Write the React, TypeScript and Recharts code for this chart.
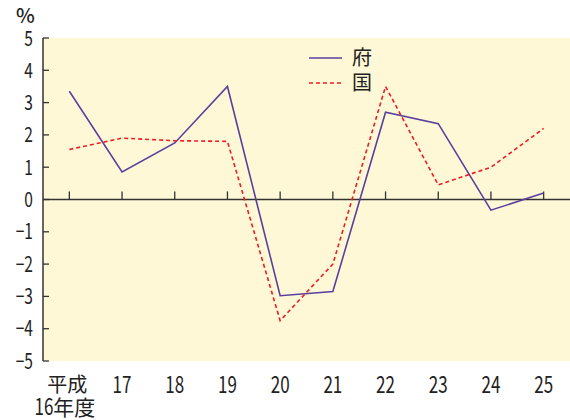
import React from 'react';
import { LineChart, Line, XAxis, YAxis, CartesianGrid, ReferenceLine } from 'recharts';

const categories = ['平成16年度', '17', '18', '19', '20', '21', '22', '23', '24', '25'];
const fuValues = [3.35, 0.85, 1.75, 3.5, -2.98, -2.85, 2.7, 2.35, -0.33, 0.2];
const kuniValues = [1.55, 1.9, 1.82, 1.8, -3.75, -2.0, 3.5, 0.45, 1.0, 2.2];
const yTicks = [-5, -4, -3, -2, -1, 0, 1, 2, 3, 4, 5];

const data = categories.map((c, i) => ({ name: c, fu: fuValues[i], kuni: kuniValues[i] }));

const FONT = '"Noto Sans CJK JP", sans-serif';
const PURPLE = '#5b3f9f';
const RED = '#ee1c25';
const AXIS = '#333333';
const TEXT = '#222222';
const NARROW = 0.74;

const Narrow = ({ x, y, anchor, size, children }: any) => (
  <text
    transform={`translate(${x},${y}) scale(${NARROW},1)`}
    x={0}
    y={0}
    textAnchor={anchor}
    fontFamily={FONT}
    fontSize={size}
    fill={TEXT}
  >
    {children}
  </text>
);

const YTick = (props: any) => {
  const { x, y, payload } = props;
  const v = payload.value;
  const label = v < 0 ? '\u2212' + Math.abs(v) : String(v);
  return (
    <g>
      <line x1={x + 10} x2={x + 16} y1={y} y2={y} stroke={AXIS} strokeWidth={1.3} />
      <Narrow x={x} y={y + 7.5} anchor="end" size={21}>{label}</Narrow>
    </g>
  );
};

const XTick = (props: any) => {
  const { x, y, payload } = props;
  const v: string = payload.value;
  if (v.startsWith('平成')) {
    return (
      <g>
        <text x={x - 2} y={y + 31} textAnchor="middle" fontFamily={FONT} fontSize={20} fill={TEXT}>平成</text>
        <Narrow x={x - 16} y={y + 54} anchor="end" size={23}>16</Narrow>
        <text x={x - 16} y={y + 54} textAnchor="start" fontFamily={FONT} fontSize={21} fill={TEXT}>年度</text>
      </g>
    );
  }
  return <Narrow x={x} y={y + 32} anchor="middle" size={23}>{v}</Narrow>;
};

const LegendBox = () => (
  <svg width={80} height={56} style={{ position: 'absolute', left: 309, top: 48, overflow: 'visible' }}>
    <line x1={0} x2={33} y1={10} y2={10} stroke={PURPLE} strokeWidth={1.6} />
    <text x={43} y={17} fontFamily={FONT} fontSize={20} fill={TEXT}>府</text>
    <line x1={0} x2={33} y1={35} y2={35} stroke={RED} strokeWidth={1.6} strokeDasharray="4 3" />
    <text x={43} y={42} fontFamily={FONT} fontSize={20} fill={TEXT}>国</text>
  </svg>
);

export default function App() {
  return (
    <div style={{ position: 'absolute', left: 0, top: 0, width: 570, height: 420, background: '#fff' }}>
      <LineChart width={570} height={420} data={data} margin={{ top: 38, right: 0, bottom: 0, left: 0 }}>
        <CartesianGrid fill="#fef8d6" stroke="none" horizontal={false} vertical={false} />
        <XAxis
          dataKey="name"
          scale="band"
          axisLine={false}
          tickLine={false}
          tickSize={0}
          tickMargin={0}
          height={59}
          tick={<XTick />}
          interval={0}
        />
        <YAxis
          domain={[-5, 5]}
          ticks={yTicks}
          width={43}
          axisLine={{ stroke: AXIS, strokeWidth: 1.5 }}
          tickLine={false}
          tickSize={0}
          tickMargin={10}
          tick={<YTick />}
          interval={0}
        />
        <ReferenceLine y={0} stroke={AXIS} strokeWidth={1.5} />
        {categories.map((c) => (
          <ReferenceLine
            key={c}
            segment={[{ x: c, y: 0 }, { x: c, y: 0.25 }]}
            stroke={AXIS}
            strokeWidth={1.3}
          />
        ))}
        <Line type="linear" dataKey="fu" name="府" stroke={PURPLE} strokeWidth={1.6} dot={false} isAnimationActive={false} />
        <Line type="linear" dataKey="kuni" name="国" stroke={RED} strokeWidth={1.6} strokeDasharray="4 3" dot={false} isAnimationActive={false} />
      </LineChart>
      <LegendBox />
      <svg width={40} height={30} style={{ position: 'absolute', left: 0, top: 0, overflow: 'visible' }}>
        <text x={16} y={23} fontFamily={FONT} fontSize={20} fontWeight={500} fill={TEXT}>%</text>
      </svg>
    </div>
  );
}
